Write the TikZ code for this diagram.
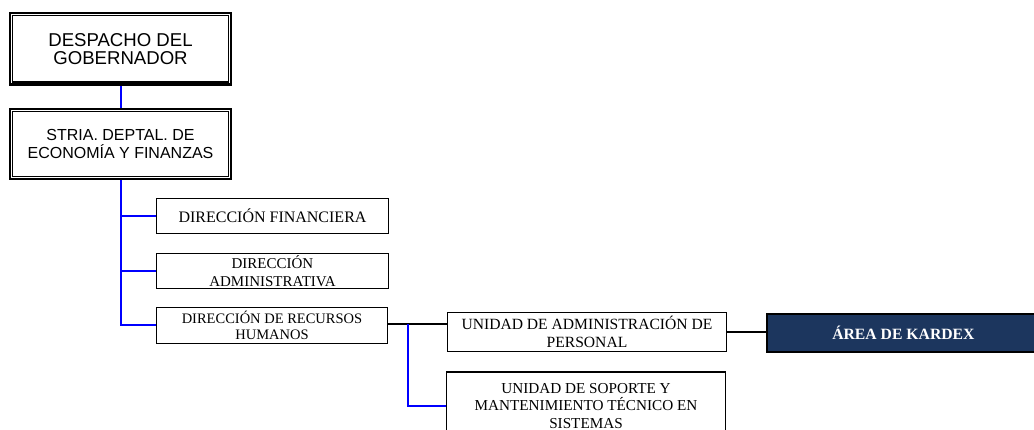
\documentclass[tikz,border=0pt]{standalone}
\usepackage{fontspec}
\setmainfont{Liberation Serif}
\newfontfamily\arialf{Liberation Sans}
\usetikzlibrary{calc}
\definecolor{kardexblue}{RGB}{28,54,94}
\definecolor{linkblue}{RGB}{0,0,255}
\tikzset{
  topbox/.style={draw=black, line width=2.2pt, inner sep=0pt, align=center, anchor=center},
  unitbox/.style={draw=black, line width=1.8pt, inner sep=0pt, align=center, anchor=center,
    font=\fontsize{15.7}{17.5}\selectfont},
  darkbox/.style={unitbox, fill=kardexblue, text=white, font=\fontsize{15.7}{17.5}\selectfont\bfseries},
  blueline/.style={draw=linkblue, line width=2pt},
  blackline/.style={draw=black, line width=2pt},
  innerframe/.style={draw=black, line width=1.2pt}
}
\begin{document}
\begin{tikzpicture}[x=1pt,y=-1pt]
\useasboundingbox (0,0) rectangle (1034,430);
\clip (0,0) rectangle (1034,430);
% top boxes
\node[topbox, minimum width=221pt, minimum height=71.2pt, font=\arialf\fontsize{18.6}{18.5}\selectfont]
  (d1) at (120.5,48.9) {DESPACHO DEL\\GOBERNADOR};
\draw[innerframe] ([shift={(3.6,3.6)}]d1.north west) rectangle ([shift={(-3.6,-3.6)}]d1.south east);
\node[topbox, minimum width=221pt, minimum height=70pt, font=\arialf\fontsize{16}{18.5}\selectfont]
  (d2) at (120.5,144) {STRIA. DEPTAL. DE\\ECONOMÍA Y FINANZAS};
\draw[innerframe] ([shift={(3.6,3.6)}]d2.north west) rectangle ([shift={(-3.6,-3.6)}]d2.south east);
% direcciones
\node[unitbox, minimum width=232pt, minimum height=35pt, font=\fontsize{16}{17.5}\selectfont] (fin) at (272.5,216) {DIRECCIÓN FINANCIERA};
\node[unitbox, minimum width=232pt, minimum height=35pt, font=\fontsize{15}{17.7}\selectfont] (adm) at (272.5,271) {DIRECCIÓN\\ADMINISTRATIVA};
\node[unitbox, minimum width=231pt, minimum height=36pt, font=\fontsize{14.5}{16.6}\selectfont] (rrhh) at (272,325.5) {DIRECCIÓN DE RECURSOS\\HUMANOS};
% unidades
\node[unitbox, minimum width=279pt, minimum height=39pt, font=\fontsize{15.6}{18}\selectfont] (ua) at (587,332) {UNIDAD DE ADMINISTRACIÓN DE\\PERSONAL};
\node[unitbox, minimum width=279pt, minimum height=68pt, font=\fontsize{15.2}{17.5}\selectfont] (sop) at (586,405.75) {UNIDAD DE SOPORTE Y\\MANTENIMIENTO TÉCNICO EN\\SISTEMAS};
\node[darkbox, minimum width=273pt, minimum height=38pt] (kdx) at (903.4,333) {ÁREA DE KARDEX};
% connectors
\draw[blueline] (d1.south) -- (d2.north);
\draw[blueline] (d2.south) -- (d2.south |- rrhh.west) -- (rrhh.west);
\draw[blueline] (d2.south |- fin.west) -- (fin.west);
\draw[blueline] (d2.south |- adm.west) -- (adm.west);
\coordinate (j) at ([yshift=1.5pt]rrhh.east);
\draw[blackline] (j) -- (j -| ua.west);
\coordinate (k) at ($(j)!0.33!(j -| ua.west)$);
\draw[blueline] (k) |- (sop.west);
\draw[blackline] (ua.east) -- (ua.east -| kdx.west);
\end{tikzpicture}
\end{document}
